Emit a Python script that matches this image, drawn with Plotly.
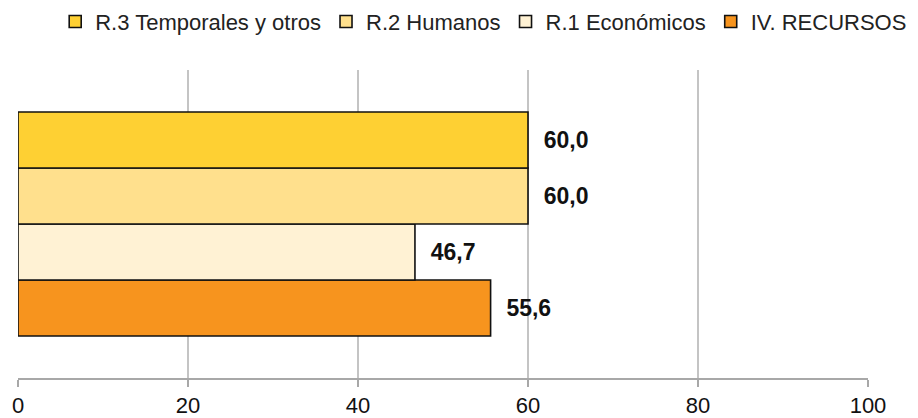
import plotly.graph_objects as go

series_names = ["IV. RECURSOS", "R.1 Económicos", "R.2 Humanos", "R.3 Temporales y otros"]
series_values = [55.6, 46.7, 60.0, 60.0]
series_colors = ["#F7941E", "#FFF2D4", "#FFE08D", "#FED033"]
category = ["Recursos"]
x_ticks = [0, 20, 40, 60, 80, 100]

fig = go.Figure()
for name, val, col in zip(series_names, series_values, series_colors):
    fig.add_trace(go.Bar(
        y=category, x=[val], name=name, orientation="h",
        marker=dict(color=col, line=dict(color="#111111", width=1.6)),
        text=[val], texttemplate="\u00a0\u00a0%{x:.1f}", textposition="outside",
        textfont=dict(family="Liberation Sans, Arial", size=23, color="#111111", weight="bold"),
        cliponaxis=False,
    ))

fig.update_layout(
    width=910, height=410,
    margin=dict(l=10, r=50, t=62, b=40, autoexpand=False),
    paper_bgcolor="white", plot_bgcolor="white",
    barmode="group", bargap=0.273, bargroupgap=0,
    separators=",.",
    font=dict(family="Liberation Sans, Arial", size=22, color="#111111"),
    showlegend=True,
    legend=dict(orientation="h", traceorder="reversed",
                x=1.052, xanchor="right",
                y=1.225, yanchor="top",
                font=dict(size=22, color="#222222"), itemwidth=30,
                bgcolor="rgba(0,0,0,0)"),
    xaxis=dict(range=[0, 100], tickvals=x_ticks, showgrid=True, gridcolor="#C4C4C4", gridwidth=1.5,
               showline=True, linecolor="#A8A8A8", linewidth=1.5, ticks="outside", ticklen=7,
               tickcolor="#A8A8A8", tickwidth=1.5, zeroline=False,
               tickfont=dict(size=22, color="#111111")),
    yaxis=dict(visible=False),
)
fig.write_html("out.html")
